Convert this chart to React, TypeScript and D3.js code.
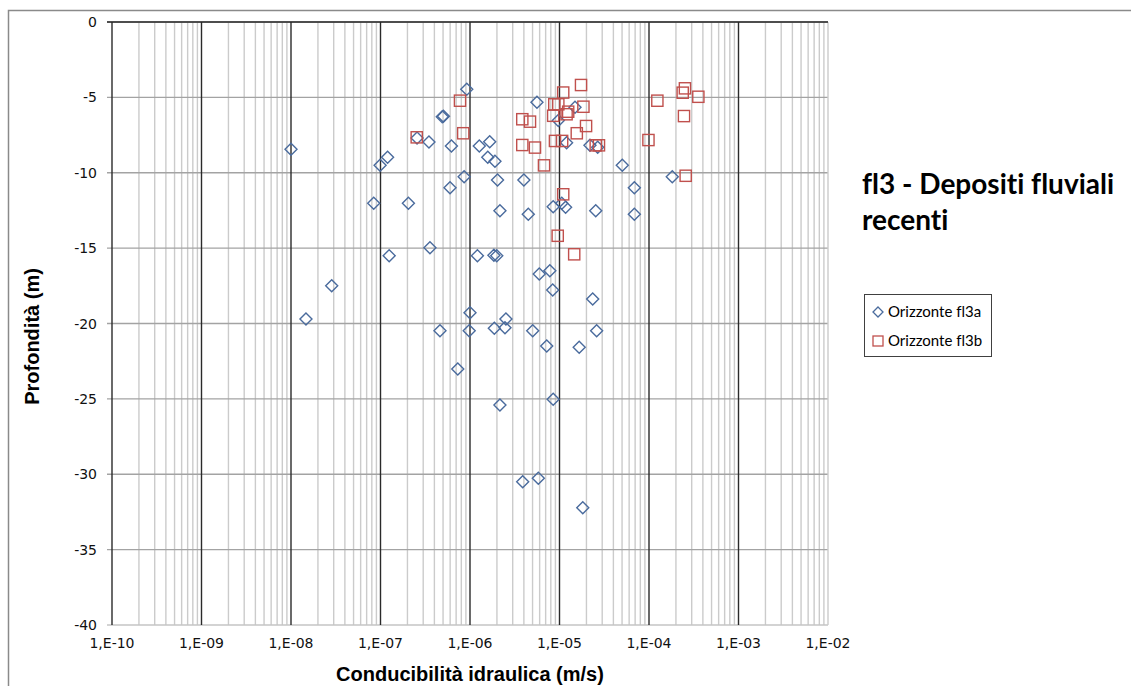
import React from "react";
import * as d3 from "d3";

// Orizzonte fl3a (diamonds): conductivity (m/s), depth (m)
const fl3aK = [
  1.0e-8, 1.47e-8, 2.85e-8, 8.4e-8, 9.9e-8, 1.2e-7, 1.25e-7, 2.05e-7, 2.56e-7, 3.48e-7,
  3.57e-7, 4.62e-7, 4.9e-7, 5.05e-7, 5.98e-7, 6.2e-7, 7.3e-7, 8.6e-7, 9.2e-7, 1.0e-6,
  9.8e-7, 1.21e-6, 1.27e-6, 1.66e-6, 1.58e-6, 1.9e-6, 2.03e-6, 2.16e-6, 1.85e-6, 1.99e-6,
  1.87e-6, 2.52e-6, 2.46e-6, 2.16e-6, 3.88e-6, 4.0e-6, 4.48e-6, 5.02e-6, 5.6e-6, 5.8e-6,
  5.94e-6, 7.2e-6, 7.8e-6, 8.4e-6, 8.5e-6, 8.5e-6, 9.7e-6, 1.06e-5, 1.17e-5, 1.2e-5,
  1.49e-5, 1.66e-5, 1.82e-5, 2.19e-5, 2.67e-5, 2.35e-5, 2.54e-5, 2.6e-5, 5.03e-5, 6.86e-5,
  6.86e-5, 1.82e-4,
];
const fl3aDepth = [
  -8.44, -19.7, -17.49, -12.03, -9.51, -8.97, -15.5, -12.03, -7.69, -7.96,
  -14.97, -20.48, -6.28, -6.25, -10.99, -8.23, -23.02, -10.26, -4.46, -19.28,
  -20.48, -15.5, -8.23, -7.94, -8.97, -9.24, -10.48, -12.52, -15.48, -15.5,
  -20.32, -19.7, -20.28, -25.41, -30.49, -10.48, -12.76, -20.48, -5.33, -30.27,
  -16.72, -21.49, -16.5, -17.78, -12.25, -25.03, -6.53, -12.03, -12.29, -8.01,
  -5.66, -21.58, -32.22, -8.18, -8.31, -18.37, -12.52, -20.48, -9.51, -10.99,
  -12.76, -10.26,
];

// Orizzonte fl3b (squares)
const fl3bK = [
  2.54e-7, 7.73e-7, 8.4e-7, 3.84e-6, 4.68e-6, 3.84e-6, 5.32e-6, 6.71e-6, 8.75e-6, 9.7e-6,
  1.1e-5, 1.74e-5, 1.85e-5, 1.25e-5, 8.5e-6, 1.2e-5, 1.98e-5, 1.56e-5, 8.9e-6, 1.07e-5,
  2.54e-5, 2.76e-5, 1.1e-5, 9.55e-6, 1.46e-5, 9.86e-5, 1.24e-4, 2.52e-4, 2.38e-4, 3.56e-4,
  2.46e-4, 2.57e-4,
];
const fl3bDepth = [
  -7.65, -5.22, -7.38, -6.45, -6.61, -8.16, -8.33, -9.51, -5.46, -5.46,
  -4.68, -4.18, -5.62, -5.95, -6.22, -6.12, -6.9, -7.38, -7.89, -7.89,
  -8.18, -8.18, -11.43, -14.18, -15.41, -7.83, -5.22, -4.4, -4.69, -4.96,
  -6.24, -10.2,
];

const xTicks = [1e-10, 1e-9, 1e-8, 1e-7, 1e-6, 1e-5, 1e-4, 1e-3, 1e-2];
const xTickLabels = ["1,E-10", "1,E-09", "1,E-08", "1,E-07", "1,E-06", "1,E-05", "1,E-04", "1,E-03", "1,E-02"];
const yTicks = [0, -5, -10, -15, -20, -25, -30, -35, -40];

const seriesNames = ["Orizzonte fl3a", "Orizzonte fl3b"];
const titleLines = ["fl3 - Depositi fluviali", "recenti"];
const xTitle = "Conducibilità idraulica (m/s)";
const yTitle = "Profondità (m)";

const W = 1131;
const H = 686;
const L = 112, R = 828, T = 22, B = 625;
const blue = "#4a6b9d";
const red = "#c0504d";

export default function App() {
  const x = d3.scaleLog().domain([1e-10, 1e-2]).range([L, R]);
  const y = d3.scaleLinear().domain([-40, 0]).range([B, T]);

  const minor: number[] = [];
  for (let e = -10; e < -2; e++) {
    for (let m = 2; m <= 9; m++) minor.push(m * Math.pow(10, e));
  }

  const tickFont = "'DejaVu Sans', Verdana, sans-serif";
  const boldFont = "'Liberation Sans', Arial, sans-serif";
  const calFont = "Lato, 'Noto Sans', sans-serif";
  const noLig = { fontVariantLigatures: "none" as const, fontFeatureSettings: "'liga' 0, 'clig' 0" };
  const ds = 6;
  const sq = 5.6;

  const diamond = (cx: number, cy: number, r: number) =>
    `M${cx},${cy - r}L${cx + r},${cy}L${cx},${cy + r}L${cx - r},${cy}Z`;

  return (
    <svg width={W} height={H} style={{ position: "absolute", left: 0, top: 0, background: "#fff" }}>
      <rect x={0} y={0} width={W} height={H} fill="#fff" />
      {/* outer chart border */}
      <path d={`M8.5,${H}L8.5,10.5L${W},10.5`} fill="none" stroke="#8a8a8a" strokeWidth={1.5} />

      {/* minor vertical grid */}
      {minor.map((v, i) => (
        <line key={"mn" + i} x1={x(v)} x2={x(v)} y1={T} y2={B} stroke="#cbcbcb" strokeWidth={1.4} />
      ))}
      {/* horizontal grid */}
      {yTicks.map((v) => (
        <line key={"hg" + v} x1={L - 5} x2={R} y1={y(v)} y2={y(v)} stroke={v === -40 ? "#c4c4c4" : "#a3a3a3"} strokeWidth={1.4} />
      ))}
      {/* major vertical grid */}
      {xTicks.map((v, i) => (
        <line
          key={"mj" + i}
          x1={x(v)}
          x2={x(v)}
          y1={T}
          y2={B}
          stroke={i === xTicks.length - 1 ? "#cbcbcb" : "#2a2a2a"}
          strokeWidth={1.4}
        />
      ))}
      {/* axis line at top (y = 0) */}
      <line x1={L - 5} x2={R} y1={y(0)} y2={y(0)} stroke="#2a2a2a" strokeWidth={1.4} />

      {/* y tick labels */}
      {yTicks.map((v) => (
        <text key={"yl" + v} x={97} y={y(v) + 5} textAnchor="end" fontFamily={tickFont} fontSize={14} fill="#111">
          {String(v)}
        </text>
      ))}
      {/* x tick labels */}
      {xTicks.map((v, i) => (
        <text key={"xl" + i} x={x(v)} y={648} textAnchor="middle" fontFamily={tickFont} fontSize={14} fill="#111">
          {xTickLabels[i]}
        </text>
      ))}

      {/* series fl3a */}
      {fl3aK.map((k, i) => (
        <path key={"a" + i} d={diamond(x(k), y(fl3aDepth[i]), ds)} fill="none" stroke={blue} strokeWidth={1.4} />
      ))}
      {/* series fl3b */}
      {fl3bK.map((k, i) => (
        <rect
          key={"b" + i}
          x={x(k) - sq}
          y={y(fl3bDepth[i]) - sq}
          width={sq * 2}
          height={sq * 2}
          fill="none"
          stroke={red}
          strokeWidth={1.4}
        />
      ))}

      {/* axis titles */}
      <text x={470} y={681} textAnchor="middle" fontFamily={boldFont} fontWeight="bold" fontSize={20} fill="#000">
        {xTitle}
      </text>
      <text
        transform={`translate(39,${(T + B) / 2 + 13}) rotate(-90)`}
        textAnchor="middle"
        fontFamily={boldFont}
        fontWeight="bold"
        fontSize={20}
        fill="#000"
      >
        {yTitle}
      </text>

      {/* title */}
      {titleLines.map((t, i) => (
        <text key={"t" + i} x={862} y={194 + i * 36} fontFamily={calFont} fontWeight="bold" fontSize={28} fill="#000" style={noLig}>
          {t}
        </text>
      ))}

      {/* legend */}
      <rect x={864.5} y={294.5} width={127} height={62} fill="#fff" stroke="#404040" strokeWidth={1} />
      <path d={diamond(878, 312, 5)} fill="none" stroke={blue} strokeWidth={1.3} />
      <rect x={873} y={336} width={10} height={10} fill="none" stroke={red} strokeWidth={1.3} />
      {seriesNames.map((s, i) => (
        <text key={"lg" + i} x={888} y={317 + i * 29} fontFamily={calFont} fontSize={15} fill="#000" style={noLig}>
          {s}
        </text>
      ))}
    </svg>
  );
}
